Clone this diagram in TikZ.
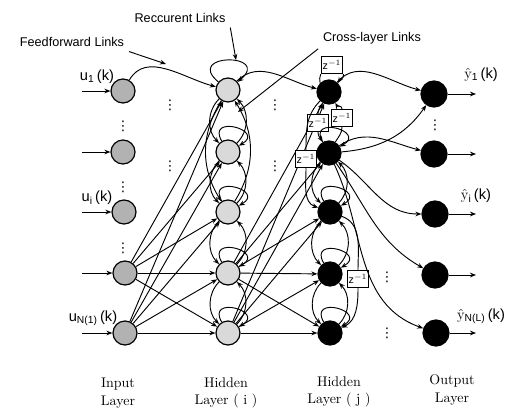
\documentclass[tikz,border=0pt]{standalone}
\usepackage{fontspec}
\newfontfamily\linkfont{Liberation Sans}
\newfontfamily\dotfont{DejaVu Sans}
\usetikzlibrary{arrows.meta}
\begin{document}
\begin{tikzpicture}[x=0.75pt,y=0.75pt,
  every path/.style={line width=0.7pt},
  neuron/.style={circle,draw,line width=0.9pt,minimum size=18pt,inner sep=0pt},
  inp/.style={neuron,fill=gray!60},
  hid/.style={neuron,fill=gray!30},
  blk/.style={neuron,fill=black},
  arr/.style={-{Stealth[length=4.5pt,width=3.5pt]}},
  zbox/.style={draw,fill=white,line width=0.7pt,inner sep=1.2pt,minimum width=15.5pt,minimum height=13pt,font=\linkfont\footnotesize},
  vd/.style={inner sep=0pt,font=\dotfont\fontsize{10}{10}\selectfont},
  lbl/.style={font=\linkfont\fontsize{9.5}{11}\selectfont},
  sig/.style={inner sep=0pt,font=\linkfont\fontsize{11}{12}\selectfont},
  layer/.style={align=center,font=\fontsize{10.5}{13}\selectfont},
  selfloop/.style={arr,out=120,in=30,looseness=4.5}
]
\path[use as bounding box] (0,0) rectangle (514,-414);

% neurons
\node[inp] (I1) at (123,-91) {};
\node[inp] (I2) at (123,-152) {};
\node[inp] (I3) at (124,-212) {};
\node[inp] (I4) at (125,-273) {};
\node[inp] (I5) at (125,-333) {};
\node[hid] (H1) at (228,-90) {};
\node[hid] (H2) at (228,-152) {};
\node[hid] (H3) at (228,-212) {};
\node[hid] (H4) at (228,-273) {};
\node[hid] (H5) at (228,-333) {};
\node[blk] (J1) at (329,-92) {};
\node[blk] (J2) at (329,-153) {};
\node[blk] (J3) at (330,-212) {};
\node[blk] (J4) at (330,-274) {};
\node[blk] (J5) at (330,-333) {};
\node[blk,minimum size=19.5pt] (O1) at (434,-94) {};
\node[blk,minimum size=19.5pt] (O2) at (434,-154) {};
\node[blk,minimum size=19.5pt] (O3) at (435,-214) {};
\node[blk,minimum size=19.5pt] (O4) at (435,-275) {};
\node[blk,minimum size=19.5pt] (O5) at (436,-333) {};

% input arrows
\foreach \n/\y in {I1/-91,I2/-152,I3/-212,I4/-273,I5/-333}{
  \coordinate (s\n) at (82,\y);
  \draw[arr] (s\n) -- (\n);
}
% output arrows
\foreach \n/\y in {O1/-94,O2/-154,O3/-214,O4/-275,O5/-333}{
  \coordinate (e\n) at (476,\y);
  \draw[arr] (\n) -- (e\n);
}

% input -> hidden i
\draw[arr] (I1) to[out=60,in=165] (H1);
\foreach \s in {I4,I5}{
  \foreach \t in {H1,H2,H3,H4,H5}{
    \draw[arr] (\s) -- (\t);
  }
}
% hidden i recurrent
\draw[arr] (H1) to[out=140,in=40,looseness=6] (H1);
\foreach \n in {H2,H3,H4,H5}{
  \draw[selfloop] (\n) to (\n);
}
\foreach \a/\b in {H1/H2,H2/H3,H3/H4,H4/H5}{
  \draw[arr] (\a) to[bend right=45] (\b);
  \draw[arr] (\b) to[bend right=45] (\a);
}
\draw[arr] (H1) to[bend right=32] (H3);
\draw[arr] (H3) to[bend right=32] (H1);

% hidden i -> hidden j
\draw[arr] (H1) to[out=45,in=165] (J1);
\foreach \s in {H4,H5}{
  \foreach \t in {J1,J2,J3,J4,J5}{
    \draw[arr] (\s) -- (\t);
  }
}

% z^-1 boxes
\node[zbox] (Z1) at (332,-65) {z$^{-1}$};
\node[zbox] (Z2) at (342,-118) {z$^{-1}$};
\node[zbox] (Z3) at (318,-123) {z$^{-1}$};
\node[zbox] (Z4) at (306,-159) {z$^{-1}$};
\node[zbox] (Z5) at (358,-279) {z$^{-1}$};

% hidden j recurrent
\draw (J1.north west) to[out=110,in=-100] (Z1.south west);
\draw[arr] (Z1.south east) to[out=-70,in=60] (J1.north east);
\draw (J1) to[out=240,in=90] (Z3);
\draw[arr] (Z3) to[out=270,in=120] (J2);
\draw (J2) to[out=60,in=270] (Z2);
\draw[arr] (Z2) to[out=90,in=-60] (J1);
\draw (J1) to[out=225,in=90] (Z4);
\draw[arr] (Z4) to[out=270,in=160] (J3);
\foreach \n in {J2,J3,J4,J5}{
  \draw[selfloop] (\n) to (\n);
}
\foreach \a/\b in {J2/J3,J3/J4,J4/J5}{
  \draw[arr] (\a) to[bend right=45] (\b);
  \draw[arr] (\b) to[bend right=45] (\a);
}
\draw (J3) to[out=-20,in=90] (Z5);
\draw[arr] (Z5) to[out=270,in=25] (J5);

% hidden j -> output
\draw[arr] (J1) to[out=50,in=165] (O1);
\draw[arr] (J2) to[out=5,in=235] (O1);
\draw[arr] (J2) to[out=35,in=165] (O2);
\draw[arr] (J2) to[out=-35,in=180] (O3);
\draw[arr] (J2) to[out=-55,in=150] (O4);
\draw[arr] (J2) to[out=-65,in=160] (O5);

% ellipsis dots
\foreach \i/\x/\y in {d1/170/-105,d2/123/-126,d3/170/-166,d4/123/-187,d5/123/-248,
                      d6/275/-105,d7/275/-166,d8/435/-125,d9/387/-277,d10/387/-333}{
  \node[vd] (\i) at (\x,\y) {⋮};
}

% signal labels
\node[sig] (lu1) at (97,-77) {u\textsubscript{1}\,(k)};
\node[sig] (lui) at (97,-198) {u\textsubscript{i}\,(k)};
\node[sig] (luN) at (93,-318) {u\textsubscript{N(1)}\,(k)};
\node[sig] (ly1) at (481,-75) {$\hat{\textrm{y}}$\textsubscript{1}\,(k)};
\node[sig] (lyi) at (476,-196) {$\hat{\textrm{y}}$\textsubscript{i}\,(k)};
\node[sig] (lyN) at (481,-316) {$\hat{\textrm{y}}$\textsubscript{N(L)}\,(k)};

% link labels and pointers
\node[lbl] (FF) at (72,-42) {Feedforward Links};
\node[lbl] (RC) at (180,-18) {Reccurent Links};
\node[lbl] (CL) at (372,-38) {Cross-layer Links};
\coordinate (pFF) at (166,-64);
\coordinate (pRC) at (236,-60);
\coordinate (pCL) at (238,-112);
\draw[arr] (FF.south east) -- (pFF);
\draw[arr] (RC.south east) -- (pRC);
\draw[arr] (CL.south west) -- (pCL);

% layer labels
\node[layer] (L1) at (118,-393) {Input\\Layer};
\node[layer] (L2) at (226,-393) {Hidden\\Layer ( i )};
\node[layer] (L3) at (339,-392) {Hidden\\Layer ( j )};
\node[layer] (L4) at (452,-390) {Output\\Layer};
\end{tikzpicture}
\end{document}
